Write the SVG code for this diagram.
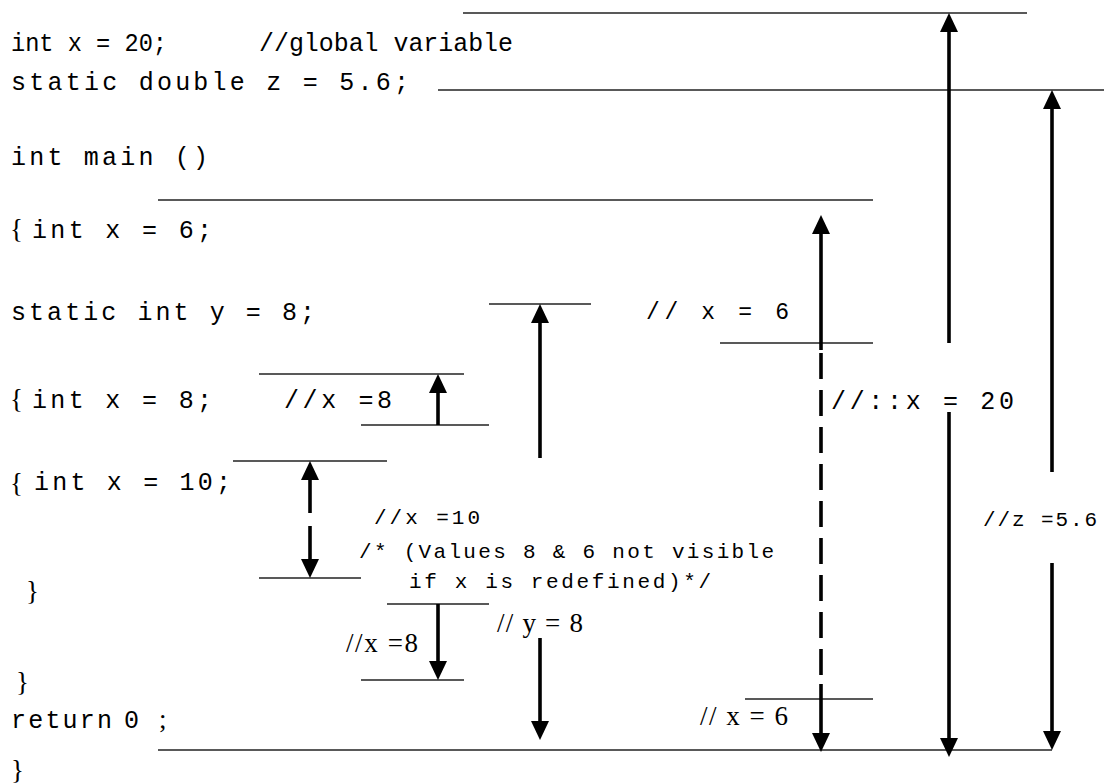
<svg xmlns="http://www.w3.org/2000/svg" width="1104" height="783" viewBox="0 0 1104 783">
<defs>
<style>
.code{font-family:"Liberation Mono","Courier New",monospace;font-size:25px;fill:#000}
.mid{font-family:"Liberation Mono","Courier New",monospace;font-size:23px;fill:#000}
.small{font-family:"Liberation Mono","Courier New",monospace;font-size:21px;fill:#000}
.serif{font-family:"Liberation Serif","Times New Roman",serif;font-size:27px;fill:#000}
.scope{stroke:#222;stroke-width:1.3;fill:none}
.arr{stroke:#000;stroke-width:3.6;fill:none}
.dash{stroke-dasharray:26 11}
</style>
<marker id="ah" viewBox="0 0 19 18" refX="1" refY="9" markerWidth="19" markerHeight="18" markerUnits="userSpaceOnUse" orient="auto"><path d="M0,0 L19,9 L0,18 z" fill="#000"/></marker>
</defs>
<rect width="1104" height="783" fill="#fff"/>

<g id="code">
  <g id="line-global-x"><text class="code" x="11" y="51" textLength="156" lengthAdjust="spacingAndGlyphs">int x = 20;</text><text class="code" x="259" y="51" textLength="254" lengthAdjust="spacingAndGlyphs">//global variable</text></g>
  <g id="line-static-z"><text class="code" x="11" y="90" textLength="398">static double z = 5.6;</text></g>
  <g id="line-main"><text class="code" x="11" y="165" textLength="197">int main ()</text></g>
  <g id="line-x6"><text class="serif" x="10" y="238" font-size="28">{</text><text class="code" x="32" y="238" textLength="180">int x = 6;</text></g>
  <g id="line-y8"><text class="code" x="11" y="320" textLength="304">static int y = 8;</text></g>
  <g id="line-x8"><text class="serif" x="10" y="408" font-size="28">{</text><text class="code" x="32" y="408" textLength="180">int x = 8;</text></g>
  <g id="line-x10"><text class="serif" x="10" y="492" font-size="29">{</text><text class="code" x="34" y="490" textLength="197">int x = 10;</text></g>
  <g id="close-inner"><text class="serif" x="26" y="600" font-size="34"> }</text></g>
  <g id="close-middle"><text class="serif" x="16" y="691" font-size="31">}</text></g>
  <g id="line-return"><text class="code" x="11" y="728" textLength="101">return</text><text class="code" x="124" y="728">0</text><text class="serif" x="159" y="728">;</text></g>
  <g id="close-main"><text class="serif" x="11" y="779" font-size="29">}</text></g>
</g>

<g id="labels">
  <g id="label-x8-top"><text class="code" x="284" y="408" font-size="24" textLength="108">//x =8</text></g>
  <g id="label-x6-top"><text class="mid" x="646" y="319" textLength="143">// x = 6</text></g>
  <g id="label-global"><text class="code" x="831" y="409" font-size="24" textLength="183">//::x = 20</text></g>
  <g id="label-x10"><text class="small" x="374" y="524" textLength="106">//x =10</text></g>
  <g id="label-note"><text class="small" x="359" y="558" textLength="415">/* (Values 8 &amp; 6 not visible</text><text class="small" x="409" y="588" textLength="302">if x is redefined)*/</text></g>
  <g id="label-z"><text class="small" x="983" y="526" textLength="114">//z =5.6</text></g>
  <g id="label-y8"><text class="serif" x="497" y="632" textLength="86">// y = 8</text></g>
  <g id="label-x8-bottom"><text class="serif" x="346" y="652" textLength="72">//x =8</text></g>
  <g id="label-x6-bottom"><text class="serif" x="700" y="725" textLength="88">// x = 6</text></g>
</g>

<g id="scope-lines" class="scope">
  <line x1="463" y1="13" x2="1027" y2="13"/>
  <line x1="438" y1="90" x2="1104" y2="90"/>
  <line x1="158" y1="200" x2="873" y2="200"/>
  <line x1="489" y1="304" x2="591" y2="304"/>
  <line x1="720" y1="343" x2="873" y2="343"/>
  <line x1="259" y1="374" x2="464" y2="374"/>
  <line x1="361" y1="425" x2="489" y2="425"/>
  <line x1="233" y1="461" x2="387" y2="461"/>
  <line x1="259" y1="578" x2="361" y2="578"/>
  <line x1="387" y1="604" x2="489" y2="604"/>
  <line x1="361" y1="680" x2="464" y2="680"/>
  <line x1="745" y1="699" x2="873" y2="699"/>
  <line x1="158" y1="750" x2="1052" y2="750"/>
</g>

<g id="connectors" class="arr">
  <line x1="949" y1="343" x2="949" y2="31" marker-end="url(#ah)"/>
  <line x1="949" y1="412" x2="949" y2="739" marker-end="url(#ah)"/>
  <line x1="1052" y1="472" x2="1052" y2="108" marker-end="url(#ah)"/>
  <line x1="1052" y1="563" x2="1052" y2="732" marker-end="url(#ah)"/>
  <line x1="821" y1="350" x2="821" y2="233" marker-end="url(#ah)"/>
  <line class="dash" x1="821" y1="353" x2="821" y2="684"/>
  <line x1="821" y1="684" x2="821" y2="734" marker-end="url(#ah)"/>
  <line x1="540" y1="458" x2="540" y2="322" marker-end="url(#ah)"/>
  <line x1="540" y1="638" x2="540" y2="722" marker-end="url(#ah)"/>
  <line x1="438" y1="425" x2="438" y2="392" marker-end="url(#ah)"/>
  <line x1="310" y1="513" x2="310" y2="479" marker-end="url(#ah)"/>
  <line x1="310" y1="526" x2="310" y2="560" marker-end="url(#ah)"/>
  <line x1="438" y1="604" x2="438" y2="662" marker-end="url(#ah)"/>
</g>
</svg>
